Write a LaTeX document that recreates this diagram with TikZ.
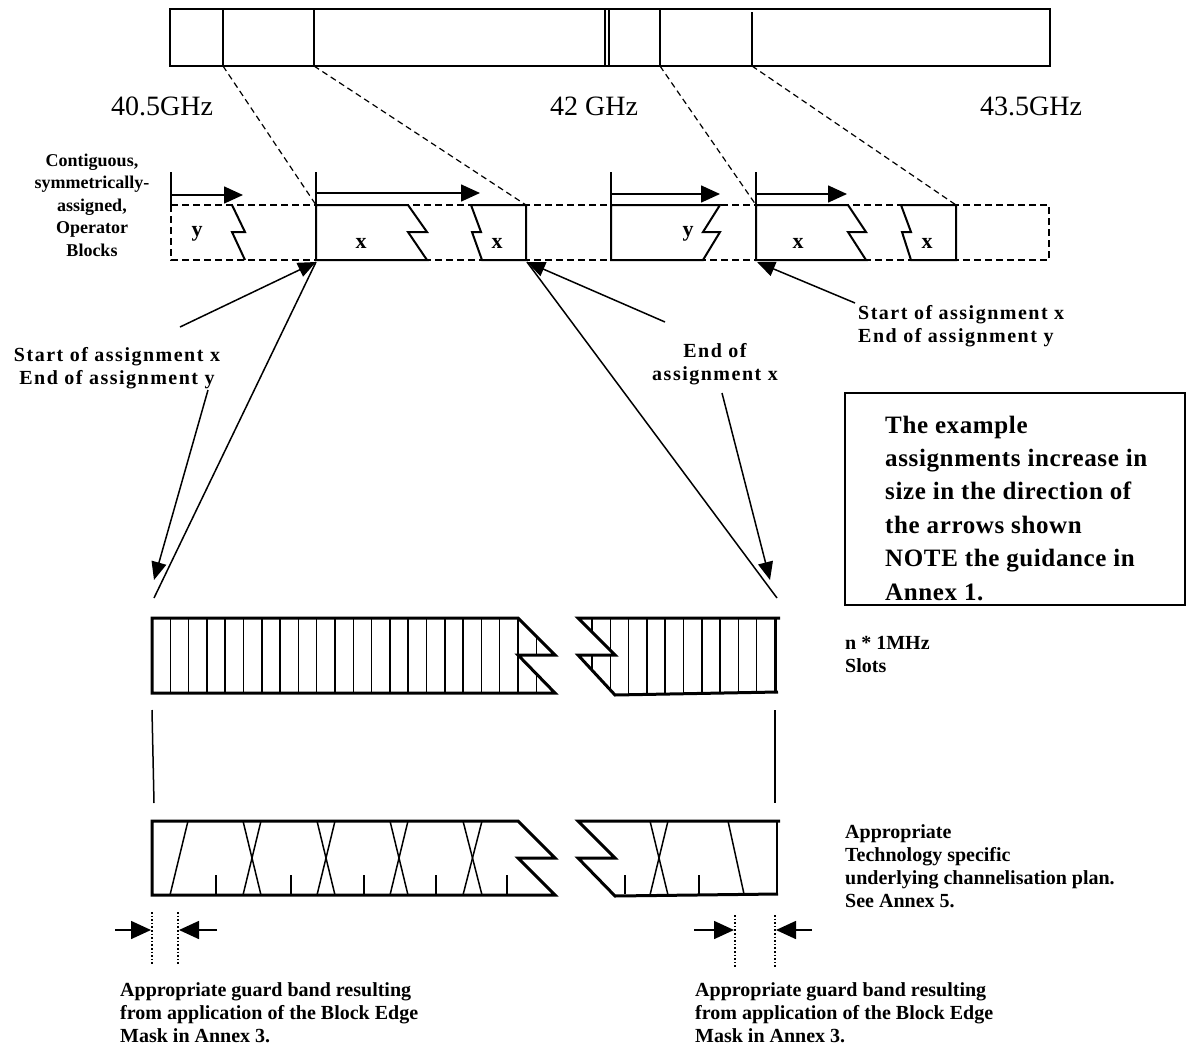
\documentclass[tikz,border=0pt]{standalone}
\usepackage{fontspec}
\setmainfont{Liberation Serif}
\newfontfamily\spacedfont[LetterSpace=7.5]{Liberation Serif}
\newfontfamily\notefont[LetterSpace=2.5]{Liberation Serif}
\usetikzlibrary{arrows.meta}
\begin{document}
\begin{tikzpicture}[x=1pt,y=-1pt,
  frame/.style={draw, line width=1.8pt},
  blk/.style={draw, line width=2pt, line join=miter},
  dsh/.style={draw, line width=1.5pt, dash pattern=on 7pt off 4pt},
  conn/.style={draw, line width=1.2pt, dash pattern=on 6pt off 4pt},
  pt/.style={-{Triangle[length=19pt,width=17pt]}, line width=1.6pt},
  ann/.style={-{Triangle[length=18pt,width=15pt]}, line width=1.5pt},
  gd/.style={-{Triangle[length=20pt,width=18pt]}, line width=1.6pt},
  thinln/.style={line width=1.5pt},
  band/.style={draw, line width=3pt, line join=miter},
  slotln/.style={line width=1.5pt},
  dots/.style={line width=1.6pt, dash pattern=on 1.6pt off 2pt},
  freq/.style={font=\fontsize{28}{32}\selectfont, inner sep=0, anchor=base west},
  lab/.style={font=\fontsize{20}{23}\selectfont\bfseries, inner sep=0},
  slab/.style={font=\fontsize{20}{23}\selectfont\spacedfont\bfseries, inner sep=0},
  blab/.style={font=\fontsize{22}{24}\selectfont\bfseries, inner sep=0, anchor=base},
  side/.style={font=\fontsize{18}{22.5}\selectfont\bfseries, inner sep=0, align=center, anchor=base},
  note/.style={font=\fontsize{25}{33.4}\selectfont\notefont\bfseries, inner sep=0, align=left, anchor=base west}
]
\useasboundingbox (0,0) rectangle (1187,1047);

% ---- top band
\draw[frame] (170,9) rectangle (1050,66);
\coordinate (a1) at (223,66);
\coordinate (a2) at (314,66);
\coordinate (a3) at (660,66);
\coordinate (a4) at (752,66);
\draw[frame] (223,9) -- (a1);
\draw[frame] (314,9) -- (a2);
\draw[frame] (660,9) -- (a3);
\draw[frame] (752,12) -- (a4);
\draw[line width=1.3pt] (605,9) -- (605,66) (609,9) -- (609,66);

\node[freq] (f1) at (111,115) {40.5GHz};
\node[freq] (f2) at (550,115) {42 GHz};
\node[freq] (f3) at (980,115) {43.5GHz};

% ---- operator blocks row
\draw[dsh] (171,205) rectangle (1049,260);
\coordinate (b1) at (316,205);
\coordinate (b2) at (526,205);
\coordinate (b3) at (756,205);
\coordinate (b4) at (956,205);
\draw[conn] (a1) -- (b1);
\draw[conn] (a2) -- (b2);
\draw[conn] (a3) -- (b3);
\draw[conn] (a4) -- (b4);

\draw[blk] (232,205) -- (245,232) -- (232,232) -- (245,260);
\draw[blk] (316,205) -- (408,205) -- (427,232) -- (408,232) -- (427,260) -- (316,260) -- cycle;
\draw[blk] (526,205) -- (471,205) -- (481,232) -- (472,232) -- (482,260) -- (526,260) -- cycle;
\draw[blk] (611,205) -- (720,205) -- (703,232) -- (720,232) -- (703,260) -- (611,260) -- cycle;
\draw[line width=2.8pt] (611,205) -- (611,260);
\draw[blk] (756,205) -- (848,205) -- (866,232) -- (848,232) -- (866,260) -- (756,260) -- cycle;
\draw[blk] (956,205) -- (901,205) -- (911,232) -- (902,232) -- (911,260) -- (956,260) -- cycle;

\node[blab] (ly1) at (197,236) {y};
\node[blab] (lx1) at (361,248) {x};
\node[blab] (lx2) at (497,248) {x};
\node[blab] (ly2) at (688,236) {y};
\node[blab] (lx3) at (798,248) {x};
\node[blab] (lx4) at (927,248) {x};

% growth arrows
\foreach \n/\x/\y/\t in {g1/171/195/243, g2/316/193/480, g3/611/194/720, g4/756/194/847}{
  \coordinate (\n s) at (\x,\y);
  \coordinate (\n e) at (\t,\y);
  \draw[thinln] (\x,172) -- (\x,205);
  \draw[pt] (\n s) -- (\n e);
}

\node[side] (ops) at (92,256) {Contiguous,\\symmetrically-\\assigned,\\Operator\\Blocks};

% ---- annotations
\coordinate (c1) at (316,262);
\coordinate (c2) at (527,262);
\coordinate (c3) at (757,262);
\coordinate (s1) at (180,327);
\coordinate (s2) at (665,322);
\coordinate (s3) at (855,303);
\draw[ann] (s1) -- (c1);
\draw[ann] (s2) -- (c2);
\draw[ann] (s3) -- (c3);

\node[slab, align=center, anchor=base] (t1) at (117,384) {Start of assignment x\\End of assignment y};
\node[slab, align=center, anchor=base] (t2) at (715,380) {End of\\assignment x};
\node[slab, align=left, anchor=base west] (t3) at (858,342) {Start of assignment x\\End of assignment y};

\coordinate (d1) at (154,598);
\coordinate (d2) at (777,598);
\draw[thinln] (c1) -- (d1);
\draw[thinln] (c2) -- (d2);
\coordinate (e1s) at (208,390);
\coordinate (e1) at (154,580);
\coordinate (e2s) at (722,393);
\coordinate (e2) at (770,580);
\draw[ann] (e1s) -- (e1);
\draw[ann] (e2s) -- (e2);

% ---- note box
\draw[line width=1.5pt] (845,393) rectangle (1185,605);
\node[note] (nt) at (885,600) {The example\\assignments increase in\\size in the direction of\\the arrows shown\\NOTE the guidance in\\Annex 1.};

% ---- slot bands
\begin{scope}
  \clip (152,618) -- (518,618) -- (555,655) -- (518,655) -- (555,693) -- (152,693) -- cycle;
  \foreach \k in {1,...,21}{ \draw[slotln] (152+18.3*\k,610) -- (152+18.3*\k,700); }
\end{scope}
\draw[band] (152,618) -- (518,618) -- (555,655) -- (518,655) -- (555,693) -- (152,693) -- cycle;

\begin{scope}
  \clip (578,618) -- (776,618) -- (776,693) -- (615,694) -- (578,655) -- (615,655) -- cycle;
  \foreach \k in {0,...,10}{ \draw[slotln] (775-18.3*\k,610) -- (775-18.3*\k,700); }
\end{scope}
\draw[band] (780,618) -- (578,618) -- (615,655) -- (578,655) -- (615,695) -- (778,692);
\draw[line width=2pt] (776,618) -- (776,692);

\node[lab, align=left, anchor=base west] (sl) at (845,672) {n * 1MHz\\Slots};

\draw[thinln] (152,710) -- (154,803);
\draw[thinln] (775,710) -- (775,803);

% ---- channelisation bands
\draw[band] (152,821) -- (518,821) -- (555,858) -- (518,858) -- (555,895) -- (152,895) -- cycle;
\draw[slotln] (170,895) -- (188,821);
\foreach \x in {216,291,364,436,507}{ \draw[slotln] (\x,875) -- (\x,895); }
\foreach \a/\b in {243/261,317/335,390/408,463/482}{
  \draw[slotln] (\a,821) -- (\b,895);
  \draw[slotln] (\a,895) -- (\b,821);
}
\draw[band] (780,821) -- (578,821) -- (615,858) -- (578,858) -- (615,896) -- (778,894);
\draw[line width=2pt] (777,821) -- (777,894);
\foreach \x in {625,699}{ \draw[slotln] (\x,875) -- (\x,894); }
\draw[slotln] (650,821) -- (668,895);
\draw[slotln] (650,895) -- (668,821);
\draw[slotln] (728,821) -- (744,894);

\node[lab, align=left, anchor=base west] (ch) at (845,907) {Appropriate\\Technology specific\\underlying channelisation plan.\\See Annex 5.};

% ---- guard bands
\draw[dots] (152,912) -- (152,965);
\draw[dots] (178,912) -- (178,965);
\coordinate (gl1) at (115,930); \coordinate (gl1t) at (151,930);
\coordinate (gl2) at (217,930); \coordinate (gl2t) at (179,930);
\draw[gd] (gl1) -- (gl1t);
\draw[gd] (gl2) -- (gl2t);
\draw[dots] (735,915) -- (735,968);
\draw[dots] (775,915) -- (775,968);
\coordinate (gr1) at (694,930); \coordinate (gr1t) at (734,930);
\coordinate (gr2) at (812,930); \coordinate (gr2t) at (776,930);
\draw[gd] (gr1) -- (gr1t);
\draw[gd] (gr2) -- (gr2t);

\node[lab, align=left, anchor=base west] (gt1) at (120,1042) {Appropriate guard band resulting\\from application of the Block Edge\\Mask in Annex 3.};
\node[lab, align=left, anchor=base west] (gt2) at (695,1042) {Appropriate guard band resulting\\from application of the Block Edge\\Mask in Annex 3.};
\end{tikzpicture}
\end{document}
